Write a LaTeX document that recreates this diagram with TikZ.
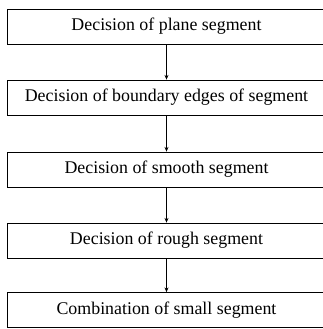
\documentclass[tikz,border=0pt]{standalone}
\usepackage{fontspec}
\setmainfont{Liberation Serif}
\usetikzlibrary{arrows.meta}
\begin{document}
\begin{tikzpicture}[x=0.75pt,y=-0.75pt,
  stepbox/.style={draw, line width=0.6pt, rectangle, minimum width=319pt*0.75, minimum height=35pt*0.75, inner sep=0pt, font=\fontsize{13.4pt}{15pt}\selectfont},
  flow/.style={line width=0.6pt, -{Stealth[length=3.5pt,width=3pt]}}]
\useasboundingbox (0,0) rectangle (323,329);
\clip (0,0) rectangle (323,329);
\node[stepbox] (a) at (166.5,26.5) {Decision of plane segment};
\node[stepbox] (b) at (166.5,97.5) {Decision of boundary edges of segment};
\node[stepbox] (c) at (166.5,169.5) {Decision of smooth segment};
\node[stepbox] (d) at (166.5,240.5) {Decision of rough segment};
\node[stepbox] (e) at (166.5,310) {Combination of small segment};
\draw[flow] (a) -- (b);
\draw[flow] (b) -- (c);
\draw[flow] (c) -- (d);
\draw[flow] (d) -- (e);
\end{tikzpicture}
\end{document}
